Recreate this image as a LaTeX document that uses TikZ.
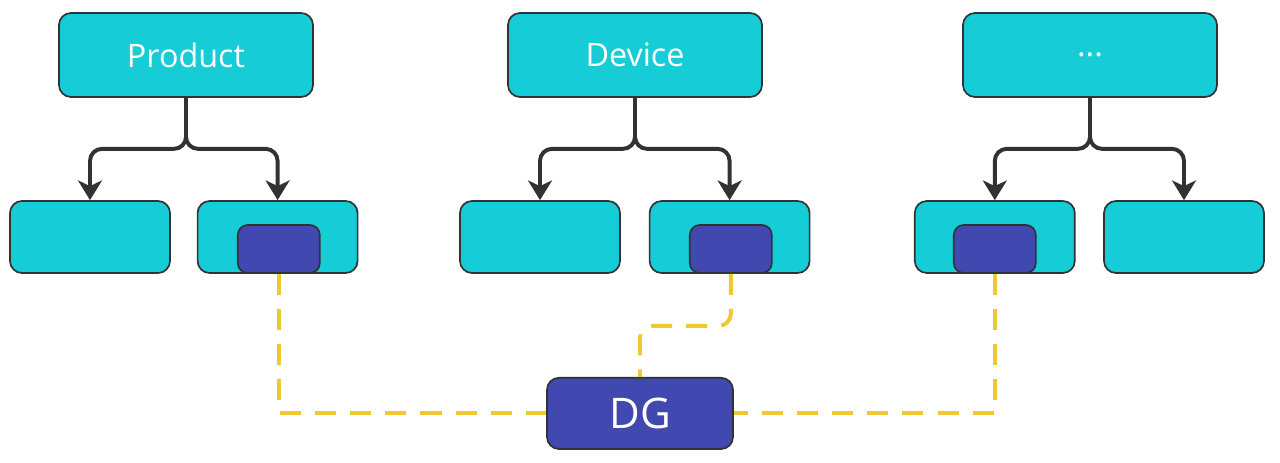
\documentclass[tikz,border=0pt]{standalone}
\usepackage{fontspec}
\setmainfont{Open Sans}
\usetikzlibrary{arrows.meta}
\definecolor{boxcyan}{RGB}{22,204,214}
\definecolor{boxblue}{RGB}{65,72,176}
\definecolor{linkyellow}{RGB}{240,200,50}
\definecolor{edgegray}{RGB}{50,50,52}

\begin{document}
\begin{tikzpicture}[
  top/.style={draw=edgegray, line width=1.2pt, fill=boxcyan, rounded corners=0.3cm, minimum width=6.35cm, minimum height=2.1cm, text=white, font=\fontsize{23}{27}\selectfont},
  part/.style={draw=edgegray, line width=1.2pt, fill=boxcyan, rounded corners=0.3cm, minimum width=4cm, minimum height=1.8cm},
  mini/.style={draw=edgegray, line width=1.2pt, fill=boxblue, rounded corners=0.25cm, minimum width=2.05cm, minimum height=1.2cm, anchor=south},
  hub/.style={draw=edgegray, line width=1.2pt, fill=boxblue, rounded corners=0.3cm, minimum width=4.65cm, minimum height=1.78cm, text=white, font=\fontsize{30}{35}\selectfont},
  arr/.style={draw=edgegray, line width=2.8pt, rounded corners=0.3cm, -{Stealth[length=14pt,width=17pt,inset=4pt]}},
  link/.style={draw=linkyellow, line width=2.8pt, dash pattern=on 15pt off 10pt}
  ]
\useasboundingbox (0,0) rectangle (32,11.575);

% oberste Ebene
\node[top] (prod) at (4.65,10.2) {Product};
\node[top] (dev) at (15.875,10.2) {Device};
\node[top] (more) at (27.25,10.2) {...};

% Unterteile
\node[part] (p1) at (2.25,5.65) {};
\node[part] (p2) at (6.94,5.65) {};
\node[part] (q1) at (13.5,5.65) {};
\node[part] (q2) at (18.24,5.65) {};
\node[part] (r1) at (24.87,5.65) {};
\node[part] (r2) at (29.6,5.65) {};

\node[mini] (d1) at ([xshift=0.03cm]p2.south) {};
\node[mini] (d2) at ([xshift=0.03cm]q2.south) {};
\node[mini] (d3) at (r1.south) {};

\node[hub] (dg) at (16,1.24) {DG};

% Pfeile
\draw[arr] (prod.south) -- ++(0,-1.275) -| (p1.north);
\draw[arr] (prod.south) -- ++(0,-1.275) -| (p2.north);
\draw[arr] (dev.south) -- ++(0,-1.275) -| (q1.north);
\draw[arr] (dev.south) -- ++(0,-1.275) -| (q2.north);
\draw[arr] (more.south) -- ++(0,-1.275) -| (r1.north);
\draw[arr] (more.south) -- ++(0,-1.275) -| (r2.north);

% Verbindungen zu DG
\draw[link] (d1.south) |- (dg.west);
\draw[link, rounded corners=0.3cm] (d2.south) -- ++(0,-1.3) -| (dg.north);
\draw[link] (d3.south) |- (dg.east);

\end{tikzpicture}
\end{document}
